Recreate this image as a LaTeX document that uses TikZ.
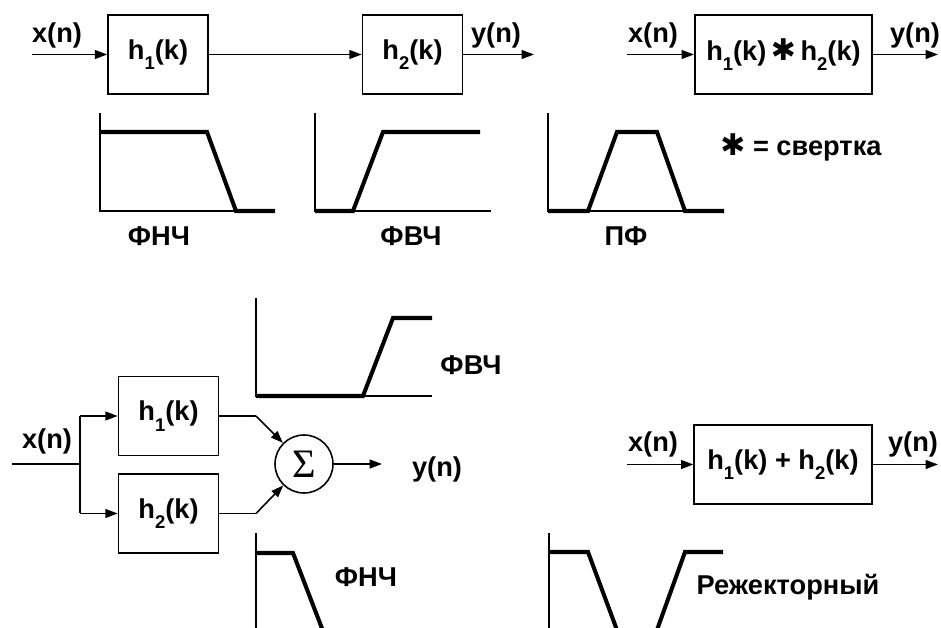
\documentclass[tikz,border=0pt]{standalone}
\usepackage{fontspec}
\setmainfont{Liberation Sans}
\newfontfamily\symfont{DejaVu Sans}
\newfontfamily\sigmafont{Liberation Serif}
\usetikzlibrary{arrows.meta}
\newcommand{\idx}[1]{\raisebox{-6pt}{\fontsize{10.5}{10.5}\selectfont #1}}

\begin{document}
\begin{tikzpicture}[
        x=0.02cm, y=-0.02cm,
        block/.style={rectangle, draw, line width=0.9pt, minimum width=2cm, minimum height=1.58cm, inner sep=0pt, font=\bfseries\fontsize{15.5}{17}\selectfont},
        wide/.style={block, minimum width=3.55cm},
        lbl/.style={inner sep=0pt, font=\bfseries\fontsize{15.5}{17}\selectfont},
        sum/.style={circle, draw, line width=0.9pt, minimum size=1.16cm, inner sep=0pt, font=\sigmafont\fontsize{23}{23}\selectfont},
        arrow/.style={->, >={Triangle[length=7pt,width=5pt]}, line width=0.9pt},
        wire/.style={line width=0.9pt},
        axis/.style={line width=0.6pt},
        resp/.style={line width=2.3pt}
    ]
        \useasboundingbox (0,0) rectangle (941,628);
        \clip (0,0) rectangle (941,628);

        \node[block] (h1) at (158,54.5) {h\idx{1}(k)};
        \node[block] (h2) at (412.5,54.5) {h\idx{2}(k)};
        \node[lbl] (x1) at (57,35) {x(n)};
        \node[lbl] (y1) at (496,35) {y(n)};
        \coordinate (in1) at (32,54.5);
        \coordinate (out1) at (534,54.5);

        \draw[arrow] (in1) -- (h1);
        \draw[arrow] (h1) -- (h2);
        \draw[arrow] (h2) -- (out1);

        \node[wide] (conv) at (783.5,54.5) {h\idx{1}(k)\,{\symfont\fontsize{17}{17}\selectfont ✱}\,h\idx{2}(k)};
        \node[lbl] (x2) at (653,35) {x(n)};
        \node[lbl] (y2) at (915,35) {y(n)};
        \coordinate (in2) at (627,54.5);
        \coordinate (out2) at (938,54.5);

        \draw[arrow] (in2) -- (conv);
        \draw[arrow] (conv) -- (out2);

        \draw[axis] (100,113) -- (100,211) -- (275,211);
        \draw[resp] (100,132) -- (207,132) -- (236,211) -- (275,211);
        \node[lbl] (lpf) at (159,236) {ФНЧ};

        \draw[axis] (315,113) -- (315,211) -- (491,211);
        \draw[resp] (315,211) -- (353,211) -- (383,132) -- (480,132);
        \node[lbl] (hpf) at (411,236) {ФВЧ};

        \draw[axis] (548,113) -- (548,211) -- (724,211);
        \draw[resp] (548,211) -- (588,211) -- (617,132) -- (657,132) -- (685,211) -- (724,211);
        \node[lbl] (bpf) at (626,236) {ПФ};
        \node[lbl] (note) at (801,147) {{\symfont\fontsize{17}{17}\selectfont ✱} = свертка};

        \draw[axis] (256,298) -- (256,396) -- (432,396);
        \draw[resp] (256,396) -- (363,396) -- (393,318) -- (432,318);
        \node[lbl] (hpf2) at (471,365) {ФВЧ};

        \node[block] (h1b) at (168.5,416) {h\idx{1}(k)};
        \node[block] (h2b) at (168.5,513.5) {h\idx{2}(k)};
        \node[sum] (sum) at (304,464) {Σ};
        \node[lbl] (x3) at (47,441) {x(n)};
        \node[lbl] (y3) at (437,469) {y(n)};
        \coordinate (in3) at (12,464);
        \coordinate (split) at (80,464);
        \coordinate (b1) at (80,416);
        \coordinate (b2) at (80,513.5);
        \coordinate (k1) at (256,416);
        \coordinate (k2) at (256,513.5);
        \coordinate (out3) at (382,464);

        \draw[wire] (in3) -- (split);
        \draw[wire] (b1) -- (b2);
        \draw[arrow] (b1) -- (h1b);
        \draw[arrow] (b2) -- (h2b);
        \draw[wire] (h1b) -- (k1);
        \draw[arrow] (k1) -- (sum);
        \draw[wire] (h2b) -- (k2);
        \draw[arrow] (k2) -- (sum);
        \draw[arrow] (sum) -- (out3);

        \draw[axis] (256,533) -- (256,640);
        \draw[resp] (256,553) -- (293,553) -- (325.3,637);
        \node[lbl] (lpf2) at (366,577) {ФНЧ};

        \draw[axis] (549,533) -- (549,640);
        \draw[resp] (549,552) -- (588,552) -- (619.2,636) -- (654.8,636) -- (685,552) -- (723,552);
        \node[lbl] (bsf) at (788,587) {Режекторный};

        \node[wide] (sum2) at (783,464.5) {h\idx{1}(k) + h\idx{2}(k)};
        \node[lbl] (x4) at (653,444) {x(n)};
        \node[lbl] (y4) at (913,444) {y(n)};
        \coordinate (in4) at (627,464.5);
        \coordinate (out4) at (938,464.5);

        \draw[arrow] (in4) -- (sum2);
        \draw[arrow] (sum2) -- (out4);
    \end{tikzpicture}
\end{document}
